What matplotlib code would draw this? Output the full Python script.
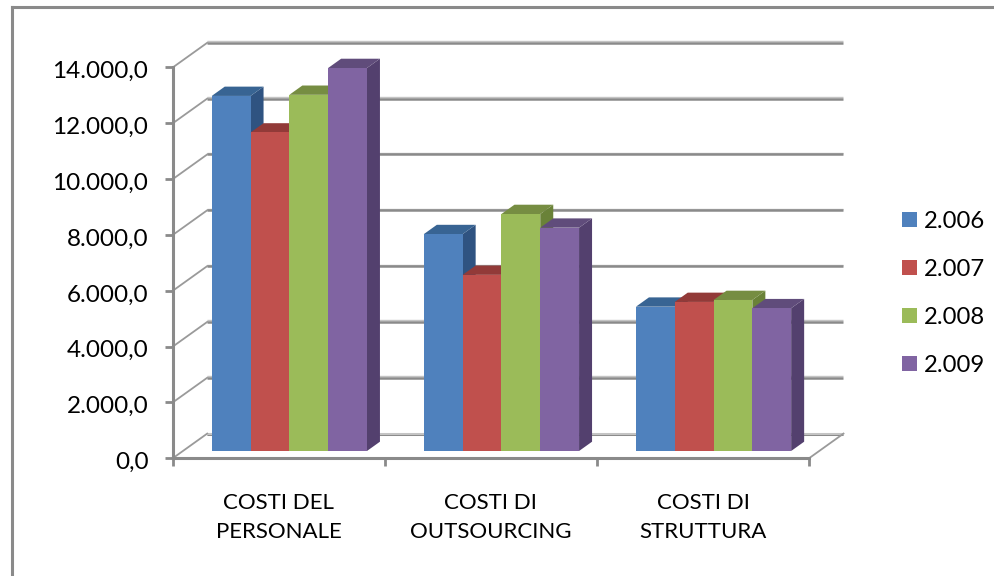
import matplotlib
matplotlib.use("Agg")
import matplotlib.pyplot as plt
from matplotlib.patches import Polygon
from matplotlib.transforms import ScaledTranslation

plt.rcParams['font.family'] = ['Lato', 'DejaVu Sans']

categories = ["COSTI DEL\nPERSONALE", "COSTI DI\nOUTSOURCING", "COSTI DI\nSTRUTTURA"]
years = ["2.006", "2.007", "2.008", "2.009"]
values_2006 = [12720, 7770, 5170]
values_2007 = [11410, 6310, 5340]
values_2008 = [12760, 8490, 5410]
values_2009 = [13720, 8000, 5115]
y_ticks = [0, 2000, 4000, 6000, 8000, 10000, 12000, 14000]

series = [values_2006, values_2007, values_2008, values_2009]
front_colors = ['#4F81BD', '#C0504D', '#9BBB59', '#8064A2']
side_colors = ['#2F5381', '#7F3331', '#6A8238', '#53406E']
top_colors = ['#386493', '#923A38', '#768D42', '#604C7B']
grid_color = '#8A8A8A'
shade_color = '#C4C4C4'

W, H = 994, 576
AX_L, AX_R, AX_TOP, AX_BOTTOM = 172.7, 809, 67.5, 458.3
fig = plt.figure(figsize=(W / 100, H / 100), dpi=100)
ax = fig.add_axes([AX_L / W, (H - AX_BOTTOM) / H, (AX_R - AX_L) / W, (AX_BOTTOM - AX_TOP) / H])
ax.set_xlim(-0.5, 2.5)
ax.set_ylim(0, 14000)
ax.patch.set_visible(False)

# pixel sizes turned into data units, so the fake 3D can be offset from the values
px_x = 3 / (AX_R - AX_L)
px_y = 14000 / (AX_BOTTOM - AX_TOP)

# outer chart frame
for xs, ys in [([11.5, 11.5], [576, 6.5]), ([11.5, 994], [6.5, 6.5])]:
    fig.add_artist(plt.Line2D([x / W for x in xs], [1 - y / H for y in ys],
                              color=grid_color, lw=2.2, solid_capstyle='projecting'))

# back wall gridlines and the diagonals of the side wall
wall_dx, wall_dy = 34.5 * px_x, 24.7 * px_y
for v in y_ticks:
    y = v + wall_dy
    x_range = [-0.5 + wall_dx, 2.5 + wall_dx]
    if v == 0:
        # floor edge is a pale band with a thin dark line under it
        ax.plot(x_range, [y, y], color=shade_color, lw=2.2, clip_on=False, zorder=1, solid_capstyle='butt')
        ax.plot(x_range, [y - 1.2 * px_y] * 2, color=grid_color, lw=0.7, clip_on=False, zorder=1, solid_capstyle='butt')
    else:
        ax.plot(x_range, [y + 1.5 * px_y] * 2, color=shade_color, lw=1.0, clip_on=False, zorder=1, solid_capstyle='butt')
        ax.plot(x_range, [y, y], color=grid_color, lw=1.8, clip_on=False, zorder=1, solid_capstyle='butt')
    ax.plot([-0.5, -0.5 + wall_dx], [v, y], color='#9A9A9A', lw=1.3, clip_on=False, zorder=1)
ax.plot([2.5, 2.5 + wall_dx], [0, wall_dy], color='#9A9A9A', lw=1.3, clip_on=False, zorder=1)

# bars stand partway into the floor
bar_w = 38.8 * px_x
shift_x, shift_y = 10.6 * px_x, 7.3 * px_y
depth_x, depth_y = 13 * px_x, 9.3 * px_y
for s, vals in enumerate(series):
    for c, v in enumerate(vals):
        left = c + shift_x + (s - 2) * bar_w
        right = left + bar_w
        base, top = shift_y, v + shift_y
        z = 3 + c * 10 + s
        ax.bar(left, v, width=bar_w, bottom=base, align='edge', color=front_colors[s],
               clip_on=False, zorder=z + 0.5, label=years[s] if c == 0 else None)
        ax.add_patch(Polygon([(right, base), (right + depth_x, base + depth_y),
                              (right + depth_x, top + depth_y), (right, top)],
                             color=side_colors[s], lw=0, clip_on=False, zorder=z))
        ax.add_patch(Polygon([(left, top), (left + depth_x, top + depth_y),
                              (right + depth_x, top + depth_y), (right, top)],
                             color=top_colors[s], lw=0, clip_on=False, zorder=z))

for side in ['top', 'right']:
    ax.spines[side].set_visible(False)
for side in ['left', 'bottom']:
    ax.spines[side].set_color(grid_color)
    ax.spines[side].set_linewidth(2.2)
    ax.spines[side].set_zorder(2)

ax.set_yticks(y_ticks)
ax.set_yticklabels([f"{v // 1000}.000,0" if v else "0,0" for v in y_ticks], fontsize=17.5)
ax.tick_params(axis='y', length=5.5, width=2.0, color=grid_color, pad=12)
label_shift = ScaledTranslation(0, -1.5 / 72, fig.dpi_scale_trans)
for lab in ax.get_yticklabels():
    lab.set_transform(lab.get_transform() + label_shift)

ax.set_xticks([-0.5, 0.5, 1.5, 2.5])
ax.set_xticklabels([])
ax.tick_params(axis='x', which='major', length=5.5, width=2.0, color=grid_color)
ax.set_xticks([0, 1, 2], minor=True)
ax.set_xticklabels(categories, minor=True, fontsize=16, linespacing=1.58)
ax.tick_params(axis='x', which='minor', length=0, pad=25)

# legend entries
handles, labels = ax.get_legend_handles_labels()
fig.legend(handles, labels, loc='center left', bbox_to_anchor=(902 / W, 1 - 293.5 / H), frameon=False,
           fontsize=17.2, handlelength=0.63, handleheight=0.63, handletextpad=0.3,
           labelspacing=1.13, borderpad=0, borderaxespad=0)

fig.savefig('out.png', dpi=100)
